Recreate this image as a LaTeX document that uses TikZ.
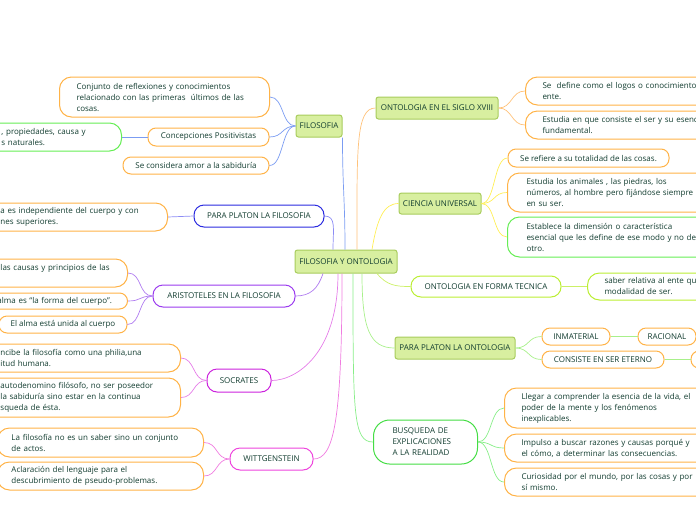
\documentclass[tikz,border=0pt]{standalone}
\usepackage{fontspec}
\setmainfont{Open Sans}
\usetikzlibrary{positioning}

\definecolor{ink}{HTML}{123D30}
\definecolor{topicfill}{HTML}{D8EFA0}
\definecolor{topicline}{HTML}{A8CC5C}
\definecolor{leafline}{HTML}{FFB347}
\definecolor{leafgreen}{HTML}{66EE55}
\definecolor{platonblue}{HTML}{2B2BE0}
\definecolor{arispurple}{HTML}{9B3BEF}
\definecolor{socmagenta}{HTML}{CC22DD}
\definecolor{witpink}{HTML}{EE44DD}
\definecolor{tecgreen}{HTML}{BBEE33}
\definecolor{busgreen}{HTML}{44DD44}
\definecolor{filoline}{HTML}{7B9CF2}
\definecolor{platonfline}{HTML}{8C8CF5}
\definecolor{arisline}{HTML}{B07CF0}
\definecolor{socline}{HTML}{E57CE8}
\definecolor{witline}{HTML}{F07CE0}
\definecolor{xviiiline}{HTML}{FFC27A}
\definecolor{cienline}{HTML}{FFEE55}
\definecolor{tecline}{HTML}{CCF066}
\definecolor{platonoline}{HTML}{A8F08A}
\definecolor{busline}{HTML}{88EE88}

\begin{document}
\begin{tikzpicture}[x=1pt, y=-1pt, font=\fontsize{8}{11}\selectfont, text=ink,
    every node/.style={line width=1pt, draw, shape=rectangle, align=left, inner ysep=0pt, inner xsep=14pt},
    topic/.style={fill=topicfill, draw=topicline, rounded corners=2.5pt, align=center, inner xsep=0pt},
    branch/.style={fill=white, rounded corners=10pt, align=center, inner xsep=0pt},
    leaf/.style={fill=white, draw=leafline, rounded corners=8pt, anchor=west},
    tall/.style={rounded corners=12pt},
    centred/.style={anchor=center, align=center, inner xsep=0pt},
    link/.style={line width=0.7pt}]
    \clip (0,0) rectangle (696,520);
    \useasboundingbox (0,0) rectangle (696,520);

    % centre and topics
    \node (hub) [topic, minimum width=102pt, minimum height=23pt] at (346,261.5) {FILOSOFIA Y ONTOLOGIA};
    \node (filosofia) [topic, minimum width=46pt, minimum height=22pt] at (319,126) {FILOSOFIA};
    \node (xviii) [topic, minimum width=122pt, minimum height=22pt] at (437,108) {ONTOLOGIA EN EL SIGLO XVIII};
    \node (ciencia) [topic, minimum width=82pt, minimum height=21pt] at (440,203.5) {CIENCIA UNIVERSAL};
    \node (platono) [topic, minimum width=120pt, minimum height=22pt] at (455,348) {PARA PLATON LA ONTOLOGIA};

    % branches
    \node (platonf) [branch, draw=platonblue, minimum width=130pt, minimum height=22pt] at (259,216) {PARA PLATON LA FILOSOFIA};
    \node (aristo) [branch, draw=arispurple, minimum width=142pt, minimum height=22pt] at (224,296) {ARISTOTELES EN LA FILOSOFIA};
    \node (socrates) [branch, draw=socmagenta, minimum width=64pt, minimum height=23pt] at (239,380.5) {SOCRATES};
    \node (witt) [branch, draw=witpink, minimum width=83pt, minimum height=22pt] at (271.5,459) {WITTGENSTEIN};
    \node (tecnica) [branch, draw=tecgreen, minimum width=150pt, minimum height=21pt] at (486,286.5) {ONTOLOGIA EN FORMA TECNICA};
    \node (busqueda) [branch, draw=busgreen, anchor=west, align=left, rounded corners=16pt, inner xsep=19pt, text width=66pt, minimum height=44pt] at (373,442) {BUSQUEDA DE\\EXPLICACIONES\\A LA REALIDAD};

    % left leaves
    \node (conjunto) [leaf, tall, inner xsep=17pt, text width=176pt, minimum height=40pt] at (59,97) {Conjunto de reflexiones y conocimientos\\relacionado con las primeras \ últimos de las\\cosas.};
    \node (concep) [leaf, centred, minimum width=121pt, minimum height=18pt] at (208.5,137) {Concepciones Positivistas};
    \node (amor) [leaf, centred, minimum width=146pt, minimum height=17pt] at (196,165.5) {Se considera amor a la sabiduría};
    \node (hechos) [leaf, tall, draw=leafgreen, text width=106pt, minimum height=28pt] at (-13,137) {, propiedades, causa y\\s naturales.};
    \node (alma) [leaf, tall, text width=153pt, minimum height=28pt] at (-14,217) {a es independiente del cuerpo y con\\nes superiores.};
    \node (causas) [leaf, tall, text width=113pt, minimum height=28pt] at (-14,273) {las causas y principios de las\\\mbox{}};
    \node (forma) [leaf, text width=116pt, minimum height=16pt] at (-17,301) {alma es “la forma del cuerpo”.};
    \node (unida) [leaf, centred, minimum width=128pt, minimum height=17pt] at (63,324.5) {El alma está unida al cuerpo};
    \node (philia) [leaf, tall, text width=166pt, minimum height=28pt] at (-14,358) {ncibe la filosofía como una philia,una\\itud humana.};
    \node (poseedor) [leaf, tall, text width=166pt, minimum height=39pt] at (-14,397.5) {autodenomino filósofo, no ser poseedor\\la sabiduría sino estar en la continua\\squeda de ésta.};
    \node (actos) [leaf, tall, text width=178pt, minimum height=29pt] at (-3,442.5) {La filosofía no es un saber sino un conjunto\\de actos.};
    \node (lenguaje) [leaf, tall, text width=178pt, minimum height=28pt] at (-3,476) {Aclaración del lenguaje para el\\descubrimiento de pseudo-problemas.};

    % right leaves
    \node (logos) [leaf, tall, inner xsep=17pt, text width=186pt, minimum height=28pt] at (525,91) {Se \ define como el logos o conocimiento\\ente.};
    \node (esencia) [leaf, tall, inner xsep=17pt, text width=186pt, minimum height=28pt] at (525,125) {Estudia en que consiste el ser y su esencia\\fundamental.};
    \node (totalidad) [leaf, centred, minimum width=161pt, minimum height=18pt] at (588.5,158) {Se refiere a su totalidad de las cosas.};
    \node (animales) [leaf, tall, inner xsep=19pt, text width=200pt, minimum height=39pt] at (507,192.5) {Estudia los animales , las piedras, los\\números, al hombre pero fijándose siempre\\en su ser.};
    \node (dimension) [leaf, tall, draw=leafgreen, inner xsep=19pt, text width=200pt, minimum height=40pt] at (507,237) {Establece la dimensión o característica\\esencial que les define de ese modo y no de\\otro.};
    \node (relativa) [leaf, tall, draw=tecgreen, inner xsep=17pt, text width=150pt, minimum height=27pt] at (587,286.5) {saber relativa al ente que\\modalidad de ser.};
    \node (inmaterial) [leaf, centred, minimum width=68pt, minimum height=17pt] at (576,336.5) {INMATERIAL};
    \node (racional) [leaf, centred, minimum width=58pt, minimum height=17pt, right=27pt of inmaterial] {RACIONAL};
    \node (eterno) [leaf, centred, minimum width=122pt, minimum height=17pt] at (603,359.5) {CONSISTE EN SER ETERNO};
    \node (eterno2) [leaf, centred, minimum width=60pt, minimum height=17pt, right=26pt of eterno] {};
    \node (vida) [leaf, tall, inner xsep=17pt, text width=200pt, minimum height=40pt] at (504,408) {Llegar a comprender la esencia de la vida, el\\poder de la mente y los fenómenos\\inexplicables.};
    \node (razones) [leaf, tall, inner xsep=17pt, text width=200pt, minimum height=28pt] at (504,448) {Impulso a buscar razones y causas porqué y\\el cómo, a determinar las consecuencias.};
    \node (curiosidad) [leaf, tall, inner xsep=17pt, text width=200pt, minimum height=28pt] at (504,482) {Curiosidad por el mundo, por las cosas y por\\sí mismo.};

    % from the centre
    \draw [link, filoline] ([xshift=-1pt]hub.north) .. controls +(0,-50) and +(0,50) .. (filosofia.south east);
    \draw [link, platonfline] ([xshift=-13pt]hub.north) .. controls +(0,-20) and +(12,0) .. (platonf.east);
    \draw [link, xviiiline] ([xshift=11pt]hub.north) .. controls +(0,-100) and +(-20,0) .. (xviii.west);
    \draw [link, cienline] ([xshift=26pt]hub.north) .. controls +(5,-30) and +(-15,0) .. (ciencia.west);
    \draw [link, arisline] ([xshift=-23pt]hub.south) .. controls +(-5,15) and +(15,0) .. (aristo.east);
    \draw [link, socline] ([xshift=-8pt]hub.south) .. controls +(0,80) and +(25,0) .. (socrates.east);
    \draw [link, witline] ([xshift=-4pt]hub.south) .. controls +(0,150) and +(20,0) .. (witt.east);
    \draw [link, platonoline] ([xshift=16pt]hub.south) .. controls +(0,55) and +(-25,0) .. (platono.west);
    \draw [link, busline] ([xshift=7pt]hub.south) .. controls +(0,140) and +(-20,0) .. (busqueda.west);
    \draw [link, tecline] ([xshift=31pt]hub.south) .. controls +(10,12) and +(-15,0) .. (tecnica.west);

    % left children
    \draw [link, filoline] (filosofia.west) .. controls +(-14,0) and +(14,0) .. (conjunto.east);
    \draw [link, filoline] (filosofia.west) .. controls +(-14,0) and +(14,0) .. (concep.east);
    \draw [link, filoline] (filosofia.west) .. controls +(-14,0) and +(14,0) .. (amor.east);
    \draw [link, filoline] (concep.west) -- (hechos.east);
    \draw [link, platonfline] (platonf.west) -- (alma.east);
    \draw [link, arisline] (aristo.west) .. controls +(-14,0) and +(14,0) .. (causas.east);
    \draw [link, arisline] (aristo.west) .. controls +(-14,0) and +(14,0) .. (forma.east);
    \draw [link, arisline] (aristo.west) .. controls +(-14,0) and +(14,0) .. (unida.east);
    \draw [link, socline] (socrates.west) .. controls +(-14,0) and +(14,0) .. (philia.east);
    \draw [link, socline] (socrates.west) .. controls +(-14,0) and +(14,0) .. (poseedor.east);
    \draw [link, witline] (witt.west) .. controls +(-14,0) and +(14,0) .. (actos.east);
    \draw [link, witline] (witt.west) .. controls +(-14,0) and +(14,0) .. (lenguaje.east);

    % right children
    \draw [link, xviiiline] (xviii.east) .. controls +(14,0) and +(-14,0) .. (logos.west);
    \draw [link, xviiiline] (xviii.east) .. controls +(14,0) and +(-14,0) .. (esencia.west);
    \draw [link, cienline] (ciencia.east) .. controls +(14,0) and +(-14,0) .. (totalidad.west);
    \draw [link, cienline] (ciencia.east) .. controls +(14,0) and +(-14,0) .. (animales.west);
    \draw [link, cienline] (ciencia.east) .. controls +(14,0) and +(-14,0) .. (dimension.west);
    \draw [link, tecline] (tecnica.east) -- (relativa.west);
    \draw [link, platonoline] (platono.east) .. controls +(14,0) and +(-14,0) .. (inmaterial.west);
    \draw [link, platonoline] (platono.east) .. controls +(14,0) and +(-14,0) .. (eterno.west);
    \draw [link, platonoline] (inmaterial.east) -- (racional.west);
    \draw [link, platonoline] (eterno.east) -- (eterno2.west);
    \draw [link, busline] (busqueda.east) .. controls +(14,0) and +(-14,0) .. (vida.west);
    \draw [link, busline] (busqueda.east) .. controls +(14,0) and +(-14,0) .. (razones.west);
    \draw [link, busline] (busqueda.east) .. controls +(14,0) and +(-14,0) .. (curiosidad.west);
\end{tikzpicture}
\end{document}
